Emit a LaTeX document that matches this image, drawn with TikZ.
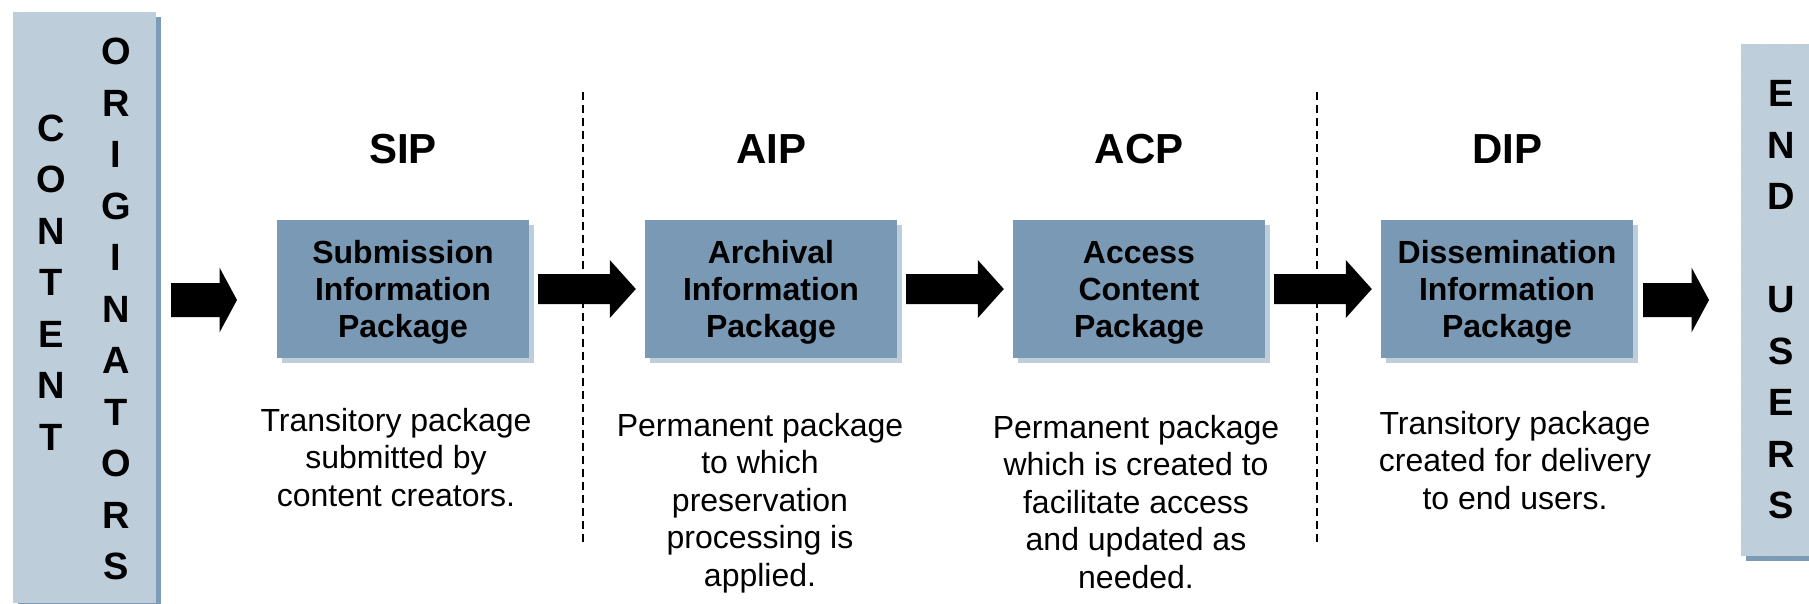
\documentclass[tikz,border=0pt]{standalone}
\usepackage{fontspec}
\setmainfont{Liberation Sans}
\usetikzlibrary{shadows,patterns,calc}
\definecolor{pkgblue}{RGB}{122,153,180}
\definecolor{paleblue}{RGB}{189,205,217}
\definecolor{panelshade}{RGB}{123,155,182}
\definecolor{dotblue}{RGB}{210,222,231}
\newcommand\blockarrow[5]{%
  \fill let \p1=(#1), \p2=(#2) in
    (\x1,\y1+#3) -- (\x2-#5,\y1+#3) -- (\x2-#5,\y1+#4) -- (\x2,\y1)
    -- (\x2-#5,\y1-#4) -- (\x2-#5,\y1-#3) -- (\x1,\y1-#3) -- cycle;}
\begin{document}
\begin{tikzpicture}[x=1pt,y=-1pt,
  pkg/.style={fill=pkgblue, minimum width=252pt, minimum height=138pt, inner sep=0pt,
    align=center, text depth=0pt, font=\bfseries\fontsize{32}{37}\selectfont,
    drop shadow={shadow xshift=5pt, shadow yshift=-5pt, fill=paleblue, opacity=1}},
  panel/.style={fill=paleblue, inner sep=0pt,
    drop shadow={shadow xshift=5pt, shadow yshift=-5pt, fill=panelshade, opacity=1}},
  heading/.style={anchor=base, font=\bfseries\fontsize{42}{50}\selectfont, inner sep=0pt},
  desc/.style={anchor=north, align=center, inner sep=0pt, font=\fontsize{32}{37.5}\selectfont},
  letters/.style={align=center, inner sep=0pt, font=\bfseries\fontsize{38}{51.5}\selectfont},
  sepline/.style={draw=black, line width=2pt, dash pattern=on 8pt off 5pt}
]
\useasboundingbox (0,0) rectangle (1809,603);
\fill[white] (0,0) rectangle (1809,603);

% side panels
\node[panel, minimum width=143pt, minimum height=591pt] (src) at (84.5,307.5) {};
\node[panel, minimum width=74pt, minimum height=512pt,
  postaction={pattern=dots, pattern color=dotblue}] (dst) at (1778,300) {};
\node[letters] (content) at (51,282.5) {C\\O\\N\\T\\E\\N\\T};
\node[letters] (orig) at (116,309) {O\\R\\I\\G\\I\\N\\A\\T\\O\\R\\S};
\node[letters] (users) at (1781,300) {E\\N\\D\\[51.5pt]U\\S\\E\\R\\S};

% dashed separators
\coordinate (d1t) at (583,92);  \coordinate (d1b) at (583,546);
\coordinate (d2t) at (1317,92); \coordinate (d2b) at (1317,546);
\draw[sepline] (d1t) -- (d1b);
\draw[sepline] (d2t) -- (d2b);

% headings
\node[heading] (hsip) at (403,163) {SIP};
\node[heading] (haip) at (771,163) {AIP};
\node[heading] (hacp) at (1139,163) {ACP};
\node[heading] (hdip) at (1507,163) {DIP};

% packages
\node[pkg] (sip) at (403,289) {Submission\\Information\\Package};
\node[pkg] (aip) at (771,289) {Archival\\Information\\Package};
\node[pkg] (acp) at (1139,289) {Access\\Content\\Package};
\node[pkg] (dip) at (1507,289) {Dissemination\\Information\\Package};

% descriptions
\node[desc] (dsip) at (396,408) {Transitory package\\submitted by\\content creators.};
\node[desc] (daip) at (760,413) {Permanent package\\to which\\preservation\\processing is\\applied.};
\node[desc] (dacp) at (1136,415) {Permanent package\\which is created to\\facilitate access\\and updated as\\needed.};
\node[desc] (ddip) at (1515,411) {Transitory package\\created for delivery\\to end users.};

% arrows
\coordinate (a1s) at (171,300); \coordinate (a1e) at (237,300);
\coordinate (a2s) at ($(sip.east)+(9,0)$); \coordinate (a2e) at ($(aip.west)+(-9,0)$);
\coordinate (a3s) at ($(aip.east)+(9,0)$); \coordinate (a3e) at ($(acp.west)+(-9,0)$);
\coordinate (a4s) at ($(acp.east)+(9,0)$); \coordinate (a4e) at ($(dip.west)+(-9,0)$);
\coordinate (a5s) at (1643,300); \coordinate (a5e) at (1709,300);
\blockarrow{a1s}{a1e}{17pt}{32.5pt}{17.5pt}
\blockarrow{a2s}{a2e}{15pt}{29pt}{26pt}
\blockarrow{a3s}{a3e}{15pt}{29pt}{26pt}
\blockarrow{a4s}{a4e}{15pt}{29pt}{26pt}
\blockarrow{a5s}{a5e}{17pt}{32.5pt}{17.5pt}
\end{tikzpicture}
\end{document}
